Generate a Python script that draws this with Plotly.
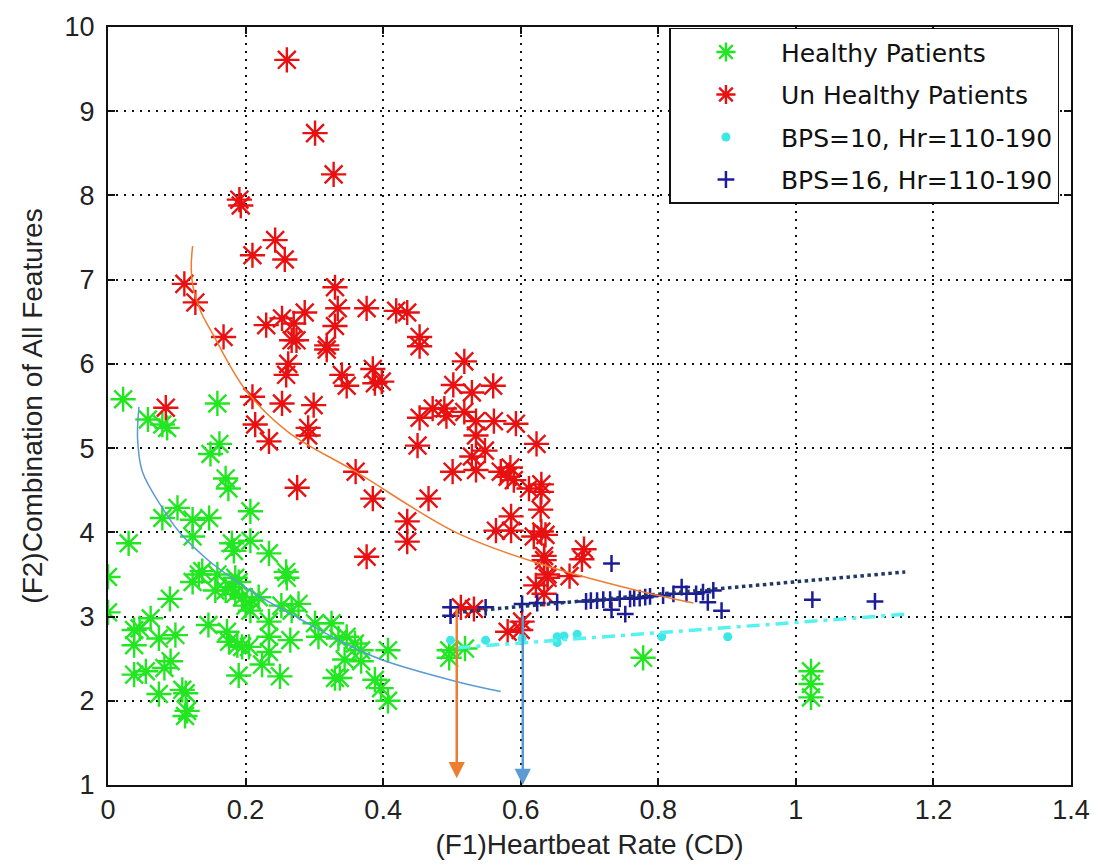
import plotly.graph_objects as go

# ---------------- data ----------------
healthy_x = [0.022, 0.159, 0.058, 0.079, 0.086, 0.162, 0.149, 0.171, 0.175, 0.207,
             0.101, 0.079, 0.123, 0.147, 0.123, 0.030, 0.180, 0.183, 0.207, 0.234,
             0.259, 0.260, 0.000, 0.123, 0.132, 0.137, 0.159, 0.185, 0.190, 0.156,
             0.171, 0.180, 0.185, 0.195, 0.209, 0.219, 0.200, 0.207, 0.090, 0.000,
             0.252, 0.267, 0.277, 0.062, 0.038, 0.046, 0.038, 0.074, 0.098, 0.146,
             0.173, 0.176, 0.188, 0.195, 0.205, 0.234, 0.234, 0.234, 0.265, 0.224,
             0.301, 0.306, 0.325, 0.335, 0.347, 0.359, 0.368, 0.344, 0.368, 0.407,
             0.038, 0.055, 0.082, 0.091, 0.190, 0.250, 0.330, 0.337, 0.388, 0.397,
             0.407, 0.074, 0.108, 0.113, 0.115, 0.112, 0.496, 0.496, 0.519, 0.778,
             1.022, 1.022, 1.022]
healthy_y = [5.58, 5.53, 5.34, 5.28, 5.24, 5.05, 4.93, 4.64, 4.52, 4.25,
             4.29, 4.17, 4.15, 4.17, 3.95, 3.87, 3.87, 3.78, 3.90, 3.75,
             3.53, 3.46, 3.47, 3.41, 3.50, 3.54, 3.50, 3.46, 3.41, 3.31,
             3.31, 3.35, 3.27, 3.23, 3.19, 3.23, 3.13, 3.07, 3.21, 3.05,
             3.13, 3.07, 3.15, 2.98, 2.84, 2.86, 2.66, 2.74, 2.78, 2.90,
             2.82, 2.70, 2.66, 2.64, 2.64, 2.94, 2.76, 2.58, 2.72, 2.43,
             2.92, 2.76, 2.92, 2.74, 2.76, 2.68, 2.60, 2.49, 2.47, 2.60,
             2.31, 2.35, 2.39, 2.47, 2.30, 2.29, 2.27, 2.27, 2.25, 2.15,
             2.00, 2.08, 2.13, 2.09, 1.88, 1.82, 2.60, 2.51, 2.62, 2.51,
             2.35, 2.20, 2.04]

unhealthy_x = [0.260, 0.301, 0.328, 0.191, 0.193, 0.243, 0.210, 0.257, 0.111, 0.127,
               0.168, 0.330, 0.334, 0.376, 0.419, 0.435, 0.330, 0.286, 0.253, 0.270,
               0.230, 0.267, 0.274, 0.318, 0.318, 0.453, 0.453, 0.518, 0.262, 0.259,
               0.340, 0.347, 0.385, 0.388, 0.398, 0.502, 0.529, 0.560, 0.210, 0.253,
               0.299, 0.214, 0.291, 0.291, 0.234, 0.084, 0.453, 0.472, 0.489, 0.492,
               0.518, 0.535, 0.535, 0.561, 0.593, 0.450, 0.623, 0.548, 0.529, 0.501,
               0.535, 0.571, 0.585, 0.581, 0.590, 0.612, 0.630, 0.630, 0.360, 0.275,
               0.385, 0.466, 0.629, 0.586, 0.586, 0.564, 0.435, 0.435, 0.619, 0.630,
               0.636, 0.634, 0.634, 0.376, 0.692, 0.689, 0.639, 0.639, 0.671, 0.622,
               0.634, 0.513, 0.532, 0.581, 0.600, 0.602]
unhealthy_y = [9.61, 8.74, 8.25, 7.95, 7.88, 7.47, 7.29, 7.24, 6.95, 6.73,
               6.32, 6.91, 6.66, 6.66, 6.63, 6.61, 6.45, 6.61, 6.54, 6.48,
               6.46, 6.28, 6.28, 6.22, 6.17, 6.32, 6.21, 6.03, 6.00, 5.87,
               5.87, 5.74, 5.94, 5.77, 5.79, 5.75, 5.66, 5.74, 5.61, 5.53,
               5.51, 5.28, 5.24, 5.15, 5.08, 5.48, 5.36, 5.47, 5.47, 5.38,
               5.43, 5.32, 5.15, 5.32, 5.29, 5.03, 5.05, 4.97, 4.90, 4.72,
               4.74, 4.72, 4.77, 4.66, 4.62, 4.52, 4.57, 4.48, 4.72, 4.53,
               4.40, 4.40, 4.27, 4.19, 4.02, 4.02, 4.13, 3.89, 3.95, 4.01,
               3.97, 3.72, 3.67, 3.71, 3.80, 3.68, 3.50, 3.46, 3.48, 3.37,
               3.27, 3.11, 3.09, 2.82, 2.84, 2.94]

bps10_x = [0.498, 0.549, 0.602, 0.653, 0.663, 0.653, 0.682, 0.805, 0.901]
bps10_y = [2.72, 2.72, 2.74, 2.76, 2.77, 2.69, 2.79, 2.76, 2.76]

bps16_x = [0.498, 0.498, 0.549, 0.602, 0.624, 0.653, 0.695, 0.702, 0.711, 0.720,
           0.730, 0.744, 0.759, 0.765, 0.773, 0.781, 0.788, 0.732, 0.732, 0.752,
           0.807, 0.822, 0.834, 0.841, 0.855, 0.865, 0.872, 0.880, 0.892, 1.024,
           1.115]
bps16_y = [3.11, 3.01, 3.11, 3.15, 3.16, 3.17, 3.18, 3.19, 3.19, 3.20,
           3.20, 3.21, 3.21, 3.22, 3.22, 3.23, 3.24, 3.63, 3.08, 3.03,
           3.25, 3.27, 3.35, 3.27, 3.27, 3.29, 3.17, 3.31, 3.07, 3.20,
           3.18]

# trend lines
bps16_line_x = [0.506, 1.159]
bps16_line_y = [3.05, 3.53]
bps10_line_x = [0.508, 1.164]
bps10_line_y = [2.63, 3.03]

# hand-drawn separating arcs
orange_arc_x = [0.123, 0.121, 0.124, 0.135, 0.152, 0.200, 0.262, 0.360, 0.508, 0.638, 0.759, 0.851]
orange_arc_y = [7.40, 7.15, 6.90, 6.62, 6.36, 5.69, 5.19, 4.72, 3.99, 3.60, 3.33, 3.16]
blue_arc_x = [0.045, 0.043, 0.050, 0.079, 0.103, 0.147, 0.180, 0.214, 0.277, 0.335, 0.397, 0.506, 0.571]
blue_arc_y = [5.49, 5.11, 4.72, 4.29, 4.01, 3.66, 3.46, 3.27, 2.98, 2.72, 2.49, 2.23, 2.11]

# arrows (x, start y, end y)
arrow_x = [0.507, 0.603]
arrow_y_start = [3.11, 3.03]
arrow_y_end = [1.08, 1.0]
arrow_colors = ["#ed7d31", "#5b9bd5"]

x_ticks = [0, 0.2, 0.4, 0.6, 0.8, 1, 1.2, 1.4]
x_ticktext = ["0", "0.2", "0.4", "0.6", "0.8", "1", "1.2", "1.4"]
y_ticks = [1, 2, 3, 4, 5, 6, 7, 8, 9, 10]

# ---------------- figure ----------------
fig = go.Figure()

fig.add_trace(go.Scatter(
    x=healthy_x, y=healthy_y, mode="markers", name="Healthy Patients",
    legendgroup="a",
    marker=dict(symbol="asterisk-open", size=21, color="#22e622",
                line=dict(color="#22e622", width=2.4))))
fig.add_trace(go.Scatter(
    x=unhealthy_x, y=unhealthy_y, mode="markers", name="Un Healthy Patients",
    legendgroup="b",
    marker=dict(symbol="asterisk-open", size=21, color="#e81010",
                line=dict(color="#e81010", width=2.4))))
fig.add_trace(go.Scatter(
    x=bps10_x, y=bps10_y, mode="markers", name="BPS=10, Hr=110-190",
    legendgroup="c",
    marker=dict(symbol="circle", size=9, color="#3fe6e6")))
fig.add_trace(go.Scatter(
    x=bps16_x, y=bps16_y, mode="markers", name="BPS=16, Hr=110-190",
    legendgroup="d",
    marker=dict(symbol="cross-thin-open", size=12, color="#1c1c9a",
                line=dict(color="#1c1c9a", width=2.5))))

fig.add_trace(go.Scatter(
    x=bps16_line_x, y=bps16_line_y, mode="lines", showlegend=False, hoverinfo="skip",
    line=dict(color="#1f3864", width=3.5, dash="3.5px,3.5px")))
fig.add_trace(go.Scatter(
    x=bps10_line_x, y=bps10_line_y, mode="lines", showlegend=False, hoverinfo="skip",
    line=dict(color="#55f2f2", width=3.5, dash="13px,6px,4px,6px")))
fig.add_trace(go.Scatter(
    x=orange_arc_x, y=orange_arc_y, mode="lines", showlegend=False, hoverinfo="skip",
    line=dict(color="#ed7d31", width=1.5, shape="spline")))
fig.add_trace(go.Scatter(
    x=blue_arc_x, y=blue_arc_y, mode="lines", showlegend=False, hoverinfo="skip",
    line=dict(color="#5b9bd5", width=1.5, shape="spline")))

for ax_, y0, y1, c in zip(arrow_x, arrow_y_start, arrow_y_end, arrow_colors):
    fig.add_annotation(
        x=ax_, y=y1, ax=ax_, ay=y0, xref="x", yref="y", axref="x", ayref="y",
        showarrow=True, arrowhead=2, arrowsize=1.3, arrowwidth=2.5,
        arrowcolor=c, standoff=0, text="")

axis_font = dict(family="Liberation Sans, Arial, sans-serif", size=27, color="#222222")
title_font = dict(family="Liberation Sans, Arial, sans-serif", size=28, color="#222222")

fig.update_xaxes(
    range=[0, 1.4], tickvals=x_ticks, ticktext=x_ticktext,
    showgrid=True, gridcolor="#111111", gridwidth=1.5, griddash="2px,6px",
    showline=True, linecolor="#111111", linewidth=2, mirror="ticks",
    ticks="inside", ticklen=7, tickwidth=2, tickcolor="#111111",
    tickfont=axis_font, zeroline=False,
    title=dict(text="(F1)Heartbeat Rate (CD)", font=title_font, standoff=10))
fig.update_yaxes(
    range=[1, 10], tickvals=y_ticks,
    showgrid=True, gridcolor="#111111", gridwidth=1.5, griddash="2px,6px",
    showline=True, linecolor="#111111", linewidth=2, mirror="ticks",
    ticks="inside", ticklen=7, tickwidth=2, tickcolor="#111111",
    tickfont=axis_font, zeroline=False, ticklabelstandoff=6,
    title=dict(text="(F2)Combination of All Features", font=title_font, standoff=14))

fig.update_layout(
    width=1102, height=867,
    margin=dict(l=108, r=26, t=20, b=81),
    paper_bgcolor="white", plot_bgcolor="white",
    legend=dict(
        x=0.988, y=0.999, xanchor="right", yanchor="top",
        bgcolor="white", bordercolor="#111111", borderwidth=1.5,
        font=dict(family="DejaVu Sans, sans-serif", size=25, color="#111111"),
        itemwidth=100, tracegroupgap=7),
    showlegend=True,
)

fig.write_html("out.html")
